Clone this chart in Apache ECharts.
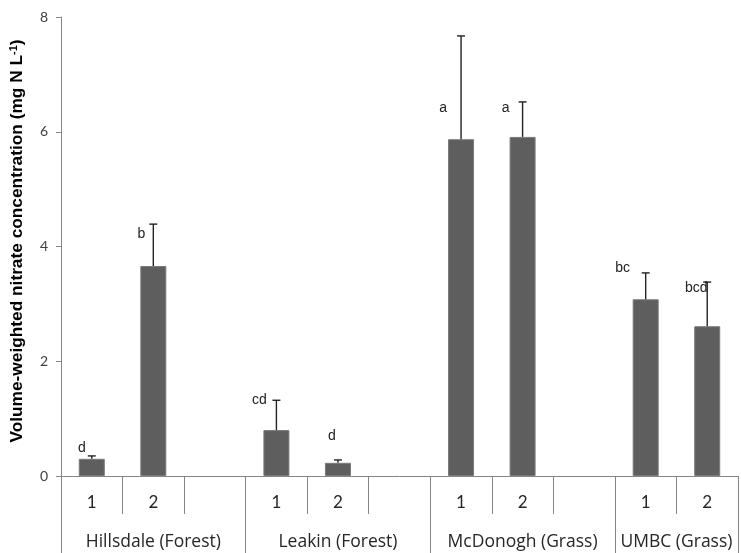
<!DOCTYPE html>
<html>
<head>
<meta charset="utf-8">
<script src="https://cdn.jsdelivr.net/npm/echarts@6/dist/echarts.min.js"></script>
<style>html,body{margin:0;padding:0;background:#fff;}#c{width:741px;height:553px;}</style>
</head>
<body>
<div id="c"></div>
<script>
// ---- data ----
var categories = ['1', '2', '', '1', '2', '', '1', '2', '', '1', '2'];
var values     = [0.30, 3.66, null, 0.80, 0.23, null, 5.87, 5.91, null, 3.08, 2.61];
var errTops    = [0.35, 4.39, null, 1.32, 0.28, null, 7.67, 6.52, null, 3.54, 3.38];
var letters    = ['d', 'b', '', 'cd', 'd', '', 'a', 'a', '', 'bc', 'bcd'];
var groups     = ['Hillsdale (Forest)', 'Leakin (Forest)', 'McDonogh (Grass)', 'UMBC (Grass)'];
var groupSizes = [3, 3, 3, 2];
var yTicks     = [0, 2, 4, 6, 8];

// label offsets (pixels, relative to bar centre / bar top) - styling only
var letterOffsets = [[-10,-11],[-12,-32],[0,0],[-17,-30],[-6,-27],[0,0],[-18,-31],[-17,-29],[0,0],[-23,-31],[-11,-38]];

// build half-slot group axis
var halfCats = [];
for (var i = 0; i <= categories.length * 2; i++) halfCats.push('');
var groupTickIdx = [];
var start = 0;
groups.forEach(function (g, k) {
  groupTickIdx.push(start * 2);
  halfCats[start * 2 + groupSizes[k]] = g;
  start += groupSizes[k];
});
groupTickIdx.push(start * 2);

var errData = [];
values.forEach(function (v, i) {
  if (v != null) errData.push([i, v, errTops[i]]);
});

var chart = echarts.init(document.getElementById('c'));
var axisColor = '#868686';
chart.setOption({
  animation: false,
  grid: { left: 58, top: 17, right: -7, bottom: 77, containLabel: false },
  xAxis: [
    {
      type: 'category',
      data: categories,
      boundaryGap: true,
      axisLine: { show: true, onZero: false, lineStyle: { color: axisColor, width: 1 } },
      axisTick: { show: true, interval: 0, length: 38, lineStyle: { color: axisColor } },
      axisLabel: { interval: 0, margin: 18, fontFamily: 'Lato', fontSize: 17, color: '#262626' },
      splitLine: { show: false }
    },
    {
      type: 'category',
      position: 'bottom',
      offset: 0,
      data: halfCats,
      boundaryGap: false,
      axisLine: { show: false },
      axisTick: {
        show: true, length: 77, lineStyle: { color: axisColor },
        interval: function (idx) { return groupTickIdx.indexOf(idx) >= 0; }
      },
      axisLabel: { interval: 0, margin: 57, fontFamily: 'Open Sans', fontSize: 17.5, color: '#262626' },
      splitLine: { show: false }
    }
  ],
  yAxis: {
    type: 'value',
    min: yTicks[0],
    max: yTicks[yTicks.length - 1],
    interval: yTicks[1] - yTicks[0],
    axisLine: { show: true, lineStyle: { color: axisColor } },
    axisTick: { show: true, length: 5, lineStyle: { color: axisColor } },
    axisLabel: { margin: 13, fontFamily: 'Lato', fontSize: 14, color: '#404040' },
    splitLine: { show: false },
    name: 'Volume-weighted nitrate concentration (mg N L{sup|-1})',
    nameLocation: 'middle',
    nameRotate: 90,
    nameGap: 35,
    nameTextStyle: {
      fontFamily: 'Liberation Sans', fontWeight: 'bold', fontSize: 17.3, color: '#000',
      padding: [0, 0, 0, 11],
      rich: { sup: { fontFamily: 'Liberation Sans', fontWeight: 'bold', fontSize: 11, color: '#000', verticalAlign: 'top', padding: [0, 0, 7, 0] } }
    }
  },
  series: [
    {
      type: 'bar',
      data: values,
      barWidth: 26,
      itemStyle: { color: '#5e5e5e', borderColor: '#7a7a7a', borderWidth: 1 }
    },
    {
      type: 'custom',
      data: errData,
      z: 5,
      renderItem: function (params, api) {
        var idx = api.value(0);
        var p0 = api.coord([idx, api.value(1)]);
        var p1 = api.coord([idx, api.value(2)]);
        var off = letterOffsets[idx];
        var lw = 1.4;
        return {
          type: 'group',
          children: [
            { type: 'line', shape: { x1: p0[0], y1: p0[1], x2: p1[0], y2: p1[1] }, style: { stroke: '#222', lineWidth: lw } },
            { type: 'line', shape: { x1: p1[0] - 4, y1: p1[1], x2: p1[0] + 4, y2: p1[1] }, style: { stroke: '#222', lineWidth: lw } },
            { type: 'text', x: p0[0] + off[0], y: p0[1] + off[1],
              style: { text: letters[idx], fill: '#222', font: '14px "Liberation Sans"', align: 'center', verticalAlign: 'middle' } }
          ]
        };
      }
    }
  ]
});
</script>
</body>
</html>
